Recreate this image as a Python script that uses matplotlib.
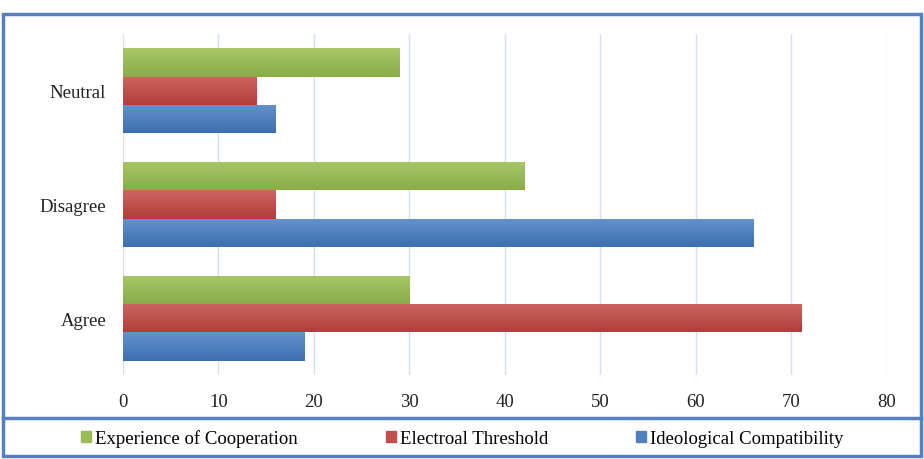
import numpy as np
import matplotlib
matplotlib.use("Agg")
import matplotlib.pyplot as plt
from matplotlib.patches import Rectangle
from matplotlib.lines import Line2D
from matplotlib.colors import LinearSegmentedColormap

categories = ["Agree", "Disagree", "Neutral"]
series = ["Ideological Compatibility", "Electroal Threshold", "Experience of Cooperation"]
ideological = [19, 66, 16]
electoral = [71, 16, 14]
cooperation = [30, 42, 29]
x_ticks = [0, 10, 20, 30, 40, 50, 60, 70, 80]

# (top, bottom) shades for the gradient look, plus legend colour
colors = {
    "Ideological Compatibility": ("#6392cc", "#3d6eb1", "#4f81bd"),
    "Electroal Threshold": ("#cd6562", "#b23d3a", "#c0504d"),
    "Experience of Cooperation": ("#a8c768", "#89ac48", "#9bbb59"),
}

plt.rcParams["font.family"] = ["Liberation Serif", "DejaVu Serif"]

fig = plt.figure(figsize=(9.24, 4.60), dpi=100)
ax = fig.add_axes([0.1331, 0.1826, 0.8268, 0.7413])

values = [ideological, electoral, cooperation]
y = np.arange(len(categories))
h = 0.25
offsets = [-h, 0, h]

grad = np.linspace(0, 1, 64).reshape(-1, 1)
for name, vals, off in zip(series, values, offsets):
    top, bottom, _ = colors[name]
    cmap = LinearSegmentedColormap.from_list(name, [bottom, top])
    bars = ax.barh(y + off, vals, height=h, color=colors[name][2], zorder=2)
    for b in bars:
        x0, y0 = b.get_x(), b.get_y()
        im = ax.imshow(grad, cmap=cmap, aspect="auto", zorder=3,
                       extent=[x0, x0 + b.get_width(), y0, y0 + b.get_height()],
                       origin="lower")
        im.set_clip_path(b)

ax.set_xlim(0, 80)
ax.set_ylim(-0.5, 2.5)
ax.set_xticks(x_ticks)
ax.set_yticks(y)
ax.set_yticklabels(categories)
ax.tick_params(length=0, labelsize=13.5, colors="#222222")
ax.tick_params(axis="x", pad=13)
ax.tick_params(axis="y", pad=12)
ax.grid(axis="x", color="#d6e0ee", linewidth=1, zorder=0)
for s in ax.spines.values():
    s.set_visible(False)

# outer frame and separator above the legend
fig.patches.append(Rectangle((0.0035, 0.006), 0.993, 0.962, transform=fig.transFigure,
                             fill=False, edgecolor="#5580bd", linewidth=2.5))
fig.lines.append(Line2D([0.0035, 0.9965], [0.089, 0.089], transform=fig.transFigure,
                        color="#5580bd", linewidth=2.5))

handles = [Rectangle((0, 0), 1, 1, color=colors[n][2]) for n in reversed(series)]
fig.legend(handles, list(reversed(series)), loc="center", bbox_to_anchor=(0.5, 0.045),
           ncol=3, frameon=False, fontsize=13.5, handlelength=0.55, handleheight=0.55,
           handletextpad=0.2, columnspacing=4.7)

fig.savefig("out.png", dpi=100)
